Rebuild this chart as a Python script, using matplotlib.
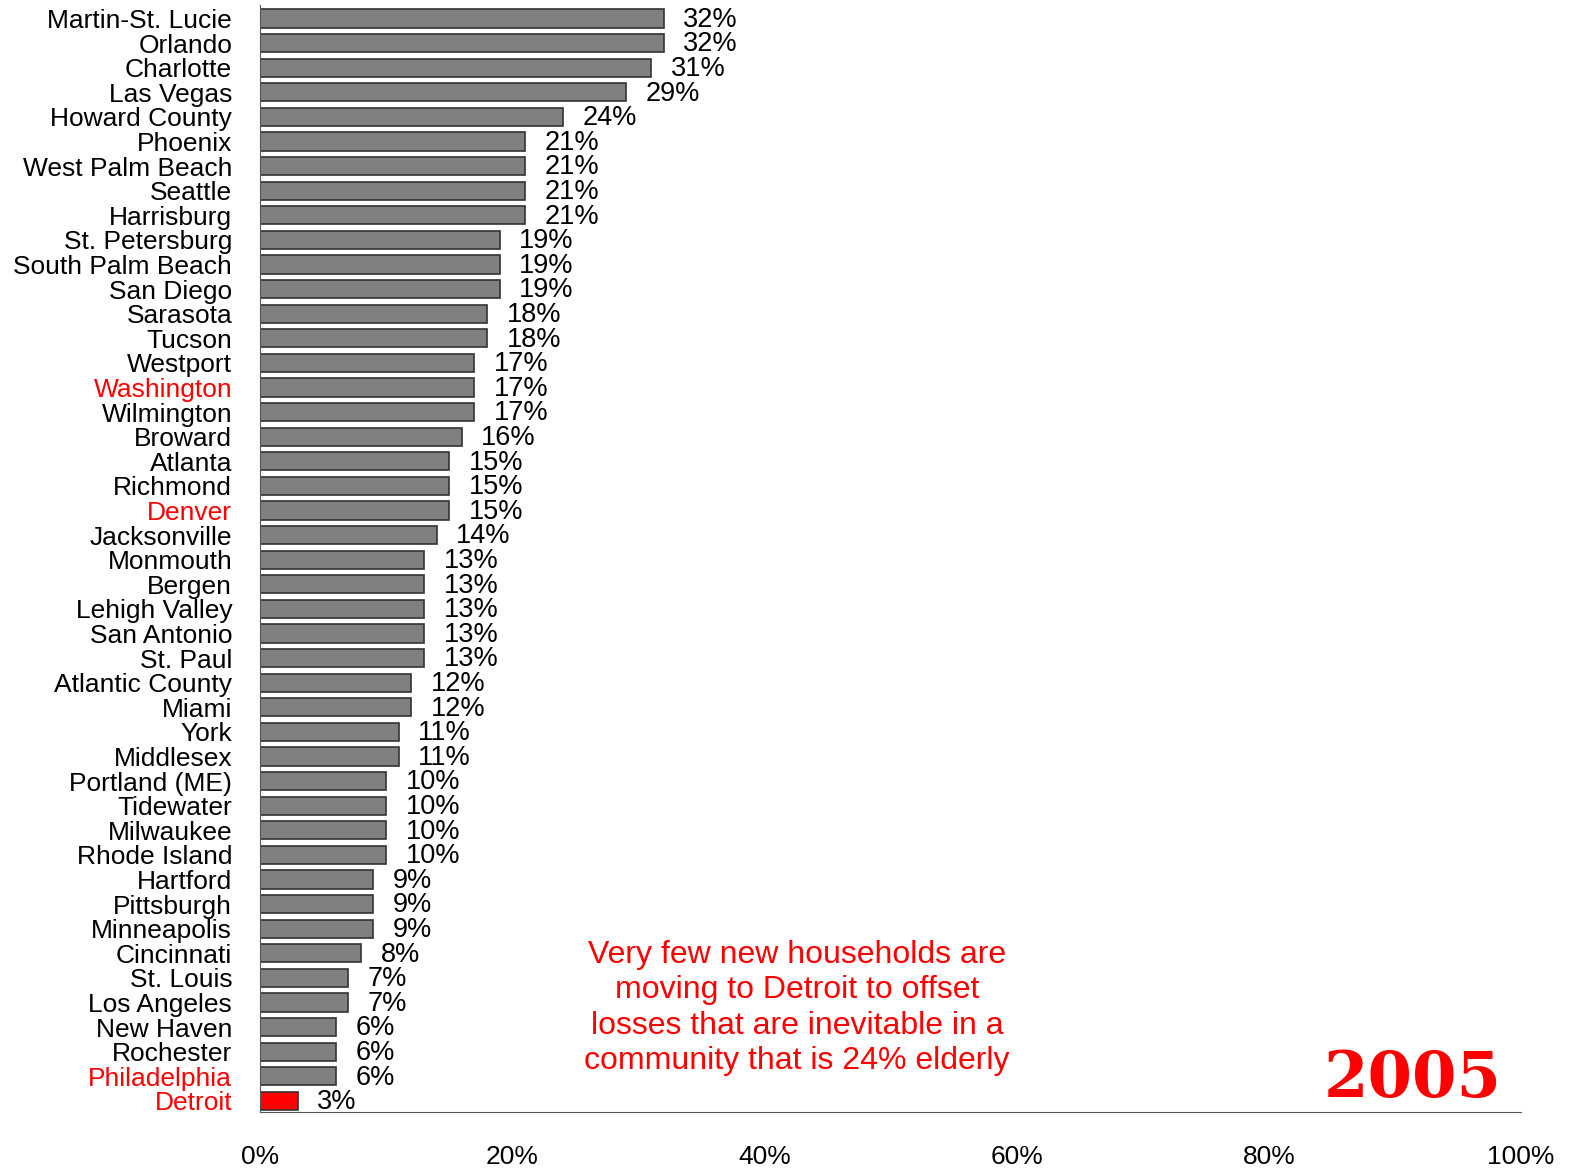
import matplotlib.pyplot as plt
import numpy as np

cities = ["Martin-St. Lucie", "Orlando", "Charlotte", "Las Vegas", "Howard County",
          "Phoenix", "West Palm Beach", "Seattle", "Harrisburg", "St. Petersburg",
          "South Palm Beach", "San Diego", "Sarasota", "Tucson", "Westport",
          "Washington", "Wilmington", "Broward", "Atlanta", "Richmond", "Denver",
          "Jacksonville", "Monmouth", "Bergen", "Lehigh Valley", "San Antonio",
          "St. Paul", "Atlantic County", "Miami", "York", "Middlesex",
          "Portland (ME)", "Tidewater", "Milwaukee", "Rhode Island", "Hartford",
          "Pittsburgh", "Minneapolis", "Cincinnati", "St. Louis", "Los Angeles",
          "New Haven", "Rochester", "Philadelphia", "Detroit"]
values = [32, 32, 31, 29, 24, 21, 21, 21, 21, 19, 19, 19, 18, 18, 17, 17, 17, 16,
          15, 15, 15, 14, 13, 13, 13, 13, 13, 12, 12, 11, 11, 10, 10, 10, 10, 9, 9,
          9, 8, 7, 7, 6, 6, 6, 3]
red_labels = ["Washington", "Denver", "Philadelphia", "Detroit"]
xticks = [0, 20, 40, 60, 80, 100]

plt.rcParams['font.family'] = ['Liberation Sans', 'DejaVu Sans']

fig = plt.figure(figsize=(15.79, 11.68), dpi=100)
ax = fig.add_axes([260/1579, 1 - 1112/1168, (1521-260)/1579, (1112-5)/1168])

n = len(cities)
y = np.arange(n)
colors = ["#ff0000" if c == "Detroit" else "#808080" for c in cities]
ax.barh(y, values, height=0.74, color=colors, edgecolor="#333333", linewidth=1.2)

for yi, v in zip(y, values):
    ax.text(v + 1.55, yi + 0.05, f"{v}%", va="center", ha="left", fontsize=19.5)

ax.set_ylim(n - 0.55, -0.55)
ax.set_xlim(0, 100)
ax.set_yticks(y)
ax.set_yticklabels(cities, fontsize=19)
for lbl in ax.get_yticklabels():
    if lbl.get_text() in red_labels:
        lbl.set_color("#ff0000")
ax.set_xticks(xticks)
ax.set_xticklabels([f"{t}%" for t in xticks], fontsize=19)
ax.tick_params(axis="y", length=0, pad=20)
ax.tick_params(axis="x", length=0, pad=24)

for s in ["top", "right"]:
    ax.spines[s].set_visible(False)
ax.spines["left"].set_color("#555555")
ax.spines["bottom"].set_color("#555555")

fig.text(797/1579, 1 - 1008/1168,
         "Very few new households are\nmoving to Detroit to offset\nlosses that are inevitable in a\ncommunity that is 24% elderly",
         color="#ff0000", fontsize=23, ha="center", va="center", linespacing=1.22)
fig.text(1413/1579, 1 - 1080/1168, "2005", color="#ff0000", fontsize=46,
         fontweight="bold", family="DejaVu Serif", ha="center", va="center")

fig.savefig("out.png", dpi=100)
